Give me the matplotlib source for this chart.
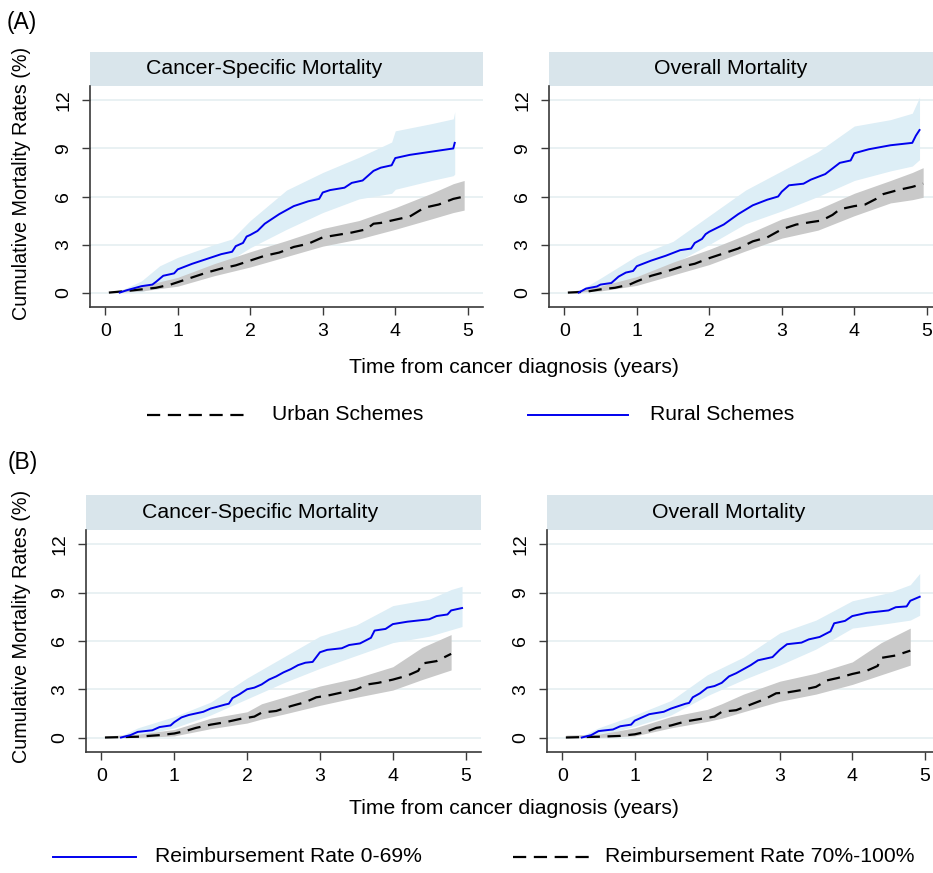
import matplotlib
matplotlib.use("Agg")
import matplotlib.pyplot as plt
from matplotlib.lines import Line2D

plt.rcParams['font.family'] = ['Liberation Sans', 'DejaVu Sans']
plt.rcParams['lines.scale_dashes'] = False

# ---- (A) urban vs rural schemes ----
urban_cs_t = [0.05, 0.3, 0.5, 0.7, 0.9, 1.0, 1.2, 1.4, 1.6, 1.8, 2.0, 2.2, 2.4, 2.6, 2.8,
              3.0, 3.2, 3.4, 3.6, 3.7, 3.8, 4.0, 4.2, 4.4, 4.6, 4.8, 4.95]
urban_cs_y = [0, 0.1, 0.2, 0.3, 0.5, 0.65, 0.95, 1.25, 1.5, 1.7, 2.0, 2.3, 2.5, 2.85, 3.05,
              3.45, 3.6, 3.75, 3.95, 4.3, 4.35, 4.55, 4.75, 5.3, 5.5, 5.85, 6.0]
urban_cs_bt = [0.05, 0.5, 1.0, 1.5, 2.0, 2.5, 3.0, 3.5, 4.0, 4.5, 4.8, 4.95]
urban_cs_lo = [0.0, 0.1, 0.4, 1.05, 1.6, 2.25, 2.9, 3.35, 3.95, 4.6, 5.0, 5.15]
urban_cs_hi = [0.05, 0.4, 0.95, 1.8, 2.55, 3.25, 4.0, 4.5, 5.3, 6.2, 6.8, 7.0]

rural_cs_t = [0.2, 0.3, 0.5, 0.65, 0.7, 0.8, 0.95, 1.0, 1.2, 1.4, 1.6, 1.75, 1.8, 1.9, 1.95,
              2.0, 2.1, 2.2, 2.3, 2.4, 2.5, 2.6, 2.8, 2.95, 3.0, 3.1, 3.3, 3.4, 3.55, 3.7,
              3.8, 3.95, 4.0, 4.2, 4.5, 4.8, 4.82]
rural_cs_y = [0, 0.15, 0.4, 0.5, 0.67, 1.05, 1.2, 1.45, 1.8, 2.1, 2.4, 2.55, 2.9, 3.1, 3.5,
              3.6, 3.85, 4.3, 4.6, 4.9, 5.15, 5.4, 5.7, 5.85, 6.25, 6.4, 6.55, 6.85, 7.0, 7.6,
              7.8, 7.95, 8.4, 8.6, 8.8, 9.0, 9.35]
rural_cs_bt = [0.2, 0.5, 0.75, 1.0, 1.5, 1.75, 2.0, 2.5, 3.0, 3.5, 3.95, 4.0, 4.5, 4.8, 4.82]
rural_cs_lo = [0.0, 0.05, 0.4, 0.85, 1.65, 2.1, 2.8, 3.95, 5.0, 5.85, 6.2, 6.45, 7.0, 7.3, 7.4]
rural_cs_hi = [0.1, 0.73, 1.67, 2.2, 3.0, 3.35, 4.5, 6.4, 7.5, 8.45, 9.4, 10.1, 10.55, 10.85, 11.3]

urban_om_t = [0.05, 0.3, 0.5, 0.7, 0.9, 1.0, 1.2, 1.4, 1.6, 1.8, 2.0, 2.2, 2.4, 2.6, 2.8,
              3.0, 3.2, 3.4, 3.55, 3.7, 3.8, 4.0, 4.15, 4.3, 4.4, 4.6, 4.8, 4.95]
urban_om_y = [0, 0.05, 0.2, 0.3, 0.5, 0.7, 1.05, 1.3, 1.6, 1.8, 2.15, 2.45, 2.75, 3.2, 3.45,
              3.95, 4.25, 4.4, 4.5, 4.85, 5.2, 5.4, 5.5, 5.85, 6.15, 6.4, 6.6, 6.8]
urban_om_bt = [0.05, 0.5, 1.0, 1.5, 2.0, 2.5, 3.0, 3.5, 4.0, 4.5, 4.8, 4.95]
urban_om_lo = [0.0, 0.1, 0.45, 1.1, 1.75, 2.6, 3.4, 3.9, 4.8, 5.6, 5.8, 5.95]
urban_om_hi = [0.05, 0.4, 1.0, 1.9, 2.7, 3.6, 4.6, 5.2, 6.2, 7.0, 7.5, 7.8]

rural_om_t = [0.2, 0.3, 0.45, 0.5, 0.65, 0.75, 0.85, 0.95, 1.0, 1.2, 1.4, 1.6, 1.75, 1.8,
              1.9, 1.95, 2.0, 2.2, 2.4, 2.6, 2.8, 2.95, 3.0, 3.1, 3.3, 3.4, 3.6, 3.7, 3.8,
              3.95, 4.0, 4.2, 4.5, 4.8, 4.85, 4.9]
rural_om_y = [0, 0.25, 0.38, 0.5, 0.6, 1.0, 1.25, 1.35, 1.65, 2.0, 2.3, 2.65, 2.75, 3.1,
              3.35, 3.65, 3.8, 4.25, 4.9, 5.45, 5.8, 6.0, 6.3, 6.7, 6.8, 7.05, 7.4, 7.75, 8.1,
              8.25, 8.7, 8.95, 9.2, 9.35, 9.8, 10.15]
rural_om_bt = [0.2, 0.5, 1.0, 1.5, 2.0, 2.5, 3.0, 3.5, 4.0, 4.5, 4.8, 4.9]
rural_om_lo = [0.0, 0.15, 1.0, 1.8, 3.0, 4.3, 5.1, 6.0, 7.0, 7.6, 7.9, 8.3]
rural_om_hi = [0.1, 0.9, 2.3, 3.2, 4.8, 6.4, 7.6, 8.8, 10.4, 10.8, 11.2, 12.2]

# ---- (B) reimbursement rate ----
low_cs_t = [0.27, 0.4, 0.5, 0.7, 0.8, 0.95, 1.0, 1.1, 1.2, 1.4, 1.5, 1.7, 1.75, 1.8, 1.9,
            2.0, 2.1, 2.2, 2.3, 2.4, 2.5, 2.6, 2.7, 2.8, 2.9, 3.0, 3.1, 3.3, 3.4, 3.55, 3.7,
            3.75, 3.9, 4.0, 4.2, 4.5, 4.6, 4.75, 4.8, 4.95]
low_cs_y = [0, 0.15, 0.35, 0.45, 0.65, 0.75, 0.95, 1.25, 1.4, 1.6, 1.8, 2.05, 2.1, 2.45, 2.7,
            3.0, 3.1, 3.3, 3.6, 3.8, 4.05, 4.25, 4.5, 4.65, 4.7, 5.3, 5.45, 5.55, 5.75, 5.85,
            6.2, 6.65, 6.75, 7.05, 7.2, 7.35, 7.55, 7.65, 7.9, 8.05]
low_cs_bt = [0.27, 0.5, 1.0, 1.5, 2.0, 2.5, 3.0, 3.5, 4.0, 4.5, 4.8, 4.95]
low_cs_lo = [0.0, 0.1, 0.6, 1.4, 2.4, 3.4, 4.3, 5.1, 5.9, 6.3, 6.7, 6.9]
low_cs_hi = [0.1, 0.6, 1.3, 2.2, 3.7, 5.0, 6.3, 7.0, 8.2, 8.6, 9.2, 9.4]

high_cs_t = [0.05, 0.5, 0.8, 1.0, 1.15, 1.3, 1.5, 1.7, 1.9, 2.1, 2.2, 2.4, 2.6, 2.8, 2.95,
             3.1, 3.3, 3.5, 3.65, 3.8, 4.0, 4.2, 4.35, 4.4, 4.6, 4.8]
high_cs_y = [0, 0.05, 0.15, 0.25, 0.4, 0.6, 0.8, 0.95, 1.15, 1.3, 1.55, 1.65, 1.95, 2.2, 2.5,
             2.6, 2.8, 3.0, 3.3, 3.4, 3.6, 3.85, 4.15, 4.6, 4.75, 5.2]
high_cs_bt = [0.05, 0.5, 1.0, 1.5, 2.0, 2.2, 2.5, 3.0, 3.5, 4.0, 4.4, 4.8]
high_cs_lo = [0.0, 0.0, 0.1, 0.55, 0.9, 1.15, 1.45, 2.0, 2.5, 2.95, 3.6, 4.2]
high_cs_hi = [0.1, 0.2, 0.5, 1.2, 1.6, 2.1, 2.5, 3.2, 3.7, 4.4, 5.6, 6.4]

low_om_t = [0.27, 0.4, 0.5, 0.7, 0.8, 0.95, 1.0, 1.1, 1.2, 1.4, 1.5, 1.7, 1.75, 1.8, 1.9,
            2.0, 2.1, 2.2, 2.3, 2.4, 2.5, 2.6, 2.7, 2.9, 3.0, 3.1, 3.3, 3.4, 3.55, 3.7, 3.75,
            3.9, 4.0, 4.2, 4.5, 4.6, 4.75, 4.8, 4.93]
low_om_y = [0, 0.15, 0.4, 0.5, 0.7, 0.8, 1.05, 1.25, 1.45, 1.6, 1.8, 2.1, 2.15, 2.5, 2.75,
            3.1, 3.2, 3.4, 3.8, 4.0, 4.25, 4.5, 4.8, 5.0, 5.45, 5.8, 5.9, 6.1, 6.25, 6.6, 7.1,
            7.25, 7.55, 7.75, 7.9, 8.1, 8.15, 8.5, 8.75]
low_om_bt = [0.27, 0.5, 1.0, 1.5, 2.0, 2.5, 3.0, 3.5, 4.0, 4.5, 4.8, 4.93]
low_om_lo = [0.0, 0.1, 0.7, 1.4, 2.6, 3.6, 4.5, 5.5, 6.8, 7.1, 7.3, 7.6]
low_om_hi = [0.1, 0.6, 1.4, 2.3, 3.9, 5.0, 6.5, 7.3, 8.5, 9.0, 9.5, 10.2]

high_om_t = [0.05, 0.5, 0.8, 1.0, 1.15, 1.3, 1.5, 1.7, 1.9, 2.1, 2.2, 2.4, 2.6, 2.8, 2.95,
             3.1, 3.3, 3.5, 3.65, 3.8, 4.0, 4.2, 4.35, 4.4, 4.6, 4.8]
high_om_y = [0, 0.05, 0.1, 0.2, 0.35, 0.6, 0.75, 1.0, 1.15, 1.3, 1.6, 1.7, 2.05, 2.4, 2.75,
             2.8, 2.95, 3.15, 3.55, 3.7, 3.95, 4.15, 4.45, 4.95, 5.1, 5.4]
high_om_bt = [0.05, 0.5, 1.0, 1.5, 2.0, 2.2, 2.5, 3.0, 3.5, 4.0, 4.4, 4.8]
high_om_lo = [0.0, 0.0, 0.1, 0.6, 1.0, 1.2, 1.6, 2.25, 2.7, 3.3, 3.9, 4.5]
high_om_hi = [0.15, 0.2, 0.6, 1.3, 1.75, 2.1, 2.7, 3.5, 4.0, 4.7, 5.9, 6.8]

yticks = [0, 3, 6, 9, 12]
xticks = [0, 1, 2, 3, 4, 5]

BLUE = "#0000ee"
BLUE_CI = "#ddeef6"
GRAY_CI = "#c9c9c9"
STRIP = "#d9e5eb"
GRID = "#e9f1f3"
SPINE = "#3a3a3a"
DASH = (0, (9.5, 5.5))

W, H = 933, 873
fig = plt.figure(figsize=(W / 100, H / 100), dpi=100)


def px_axes(x0, y0, x1, y1):
    # pixel box (top-left origin) -> figure axes
    return fig.add_axes([x0 / W, 1 - y1 / H, (x1 - x0) / W, (y1 - y0) / H])


def panel(box, strip_h, title, title_x, blue, black):
    x0, y0, x1, y1 = box
    st = px_axes(x0, y0 - strip_h, x1, y0)
    st.set_facecolor(STRIP)
    st.set_xticks([])
    st.set_yticks([])
    for s in st.spines.values():
        s.set_visible(False)
    st.text(title_x, 0.5, title, ha="center", va="center", fontsize=15.3,
            transform=st.transAxes)

    ax = px_axes(*box)
    for y in yticks:
        ax.axhline(y, color=GRID, lw=1.4, zorder=0)
    bt, blo, bhi = blue[2], blue[3], blue[4]
    ax.fill_between(bt, blo, bhi, color=BLUE_CI, lw=0, zorder=1)
    kt, klo, khi = black[2], black[3], black[4]
    ax.fill_between(kt, klo, khi, color=GRAY_CI, lw=0, zorder=2)
    ax.plot(black[0], black[1], color="black", lw=1.6, ls=DASH, zorder=3)
    ax.plot(blue[0], blue[1], color=BLUE, lw=1.4, zorder=4)

    ax.set_xlim(-0.21, 5.21)
    ax.set_ylim(-0.9, 12.9)
    ax.set_xticks(xticks)
    ax.set_yticks(yticks)
    ax.spines["top"].set_visible(False)
    ax.spines["right"].set_visible(False)
    for s in ("left", "bottom"):
        ax.spines[s].set_color(SPINE)
        ax.spines[s].set_linewidth(1.2)
    ax.tick_params(direction="out", length=5.8, width=1.0, color=SPINE,
                   labelsize=14)
    ax.tick_params(axis="x", pad=6.0)
    ax.tick_params(axis="y", pad=7.0, labelrotation=90)
    for lab in ax.get_yticklabels():
        lab.set_va("center")
    return ax


def legend_entry(x0, x1, y, tx, label, **kw):
    fig.add_artist(Line2D([x0 / W, x1 / W], [1 - y / H, 1 - y / H],
                          transform=fig.transFigure, **kw))
    fig.text(tx / W, 1 - y / H, label, ha="left", va="center", fontsize=15.2)


# (A)
panel((90, 86, 483, 307), 34, "Cancer-Specific Mortality", 0.443,
      (rural_cs_t, rural_cs_y, rural_cs_bt, rural_cs_lo, rural_cs_hi),
      (urban_cs_t, urban_cs_y, urban_cs_bt, urban_cs_lo, urban_cs_hi))
panel((549, 86, 942, 307), 34, "Overall Mortality", 0.461,
      (rural_om_t, rural_om_y, rural_om_bt, rural_om_lo, rural_om_hi),
      (urban_om_t, urban_om_y, urban_om_bt, urban_om_lo, urban_om_hi))

# (B)
panel((86, 530, 481, 752), 35, "Cancer-Specific Mortality", 0.44,
      (low_cs_t, low_cs_y, low_cs_bt, low_cs_lo, low_cs_hi),
      (high_cs_t, high_cs_y, high_cs_bt, high_cs_lo, high_cs_hi))
panel((547, 530, 940, 752), 35, "Overall Mortality", 0.463,
      (low_om_t, low_om_y, low_om_bt, low_om_lo, low_om_hi),
      (high_om_t, high_om_y, high_om_bt, high_om_lo, high_om_hi))

fig.text(7 / W, 1 - 22 / H, "(A)", ha="left", va="center", fontsize=16.5)
fig.text(8 / W, 1 - 463 / H, "(B)", ha="left", va="center", fontsize=16.5)

for yc in (183, 626):
    fig.text(22 / W, 1 - yc / H, "Cumulative Mortality Rates (%)", rotation=90,
             ha="center", va="center", fontsize=14.2)
for yc in (367, 808):
    fig.text(514 / W, 1 - yc / H, "Time from cancer diagnosis (years)",
             ha="center", va="center", fontsize=15.2)

legend_entry(147, 245, 415, 272, "Urban Schemes", color="black", lw=1.6, ls=DASH)
legend_entry(528, 628, 415, 650, "Rural Schemes", color=BLUE, lw=1.4)
legend_entry(53, 136, 857, 155, "Reimbursement Rate 0-69%", color=BLUE, lw=1.4)
legend_entry(513, 589, 857, 605, "Reimbursement Rate 70%-100%", color="black",
             lw=1.6, ls=DASH)

fig.savefig("out.png", dpi=100)
